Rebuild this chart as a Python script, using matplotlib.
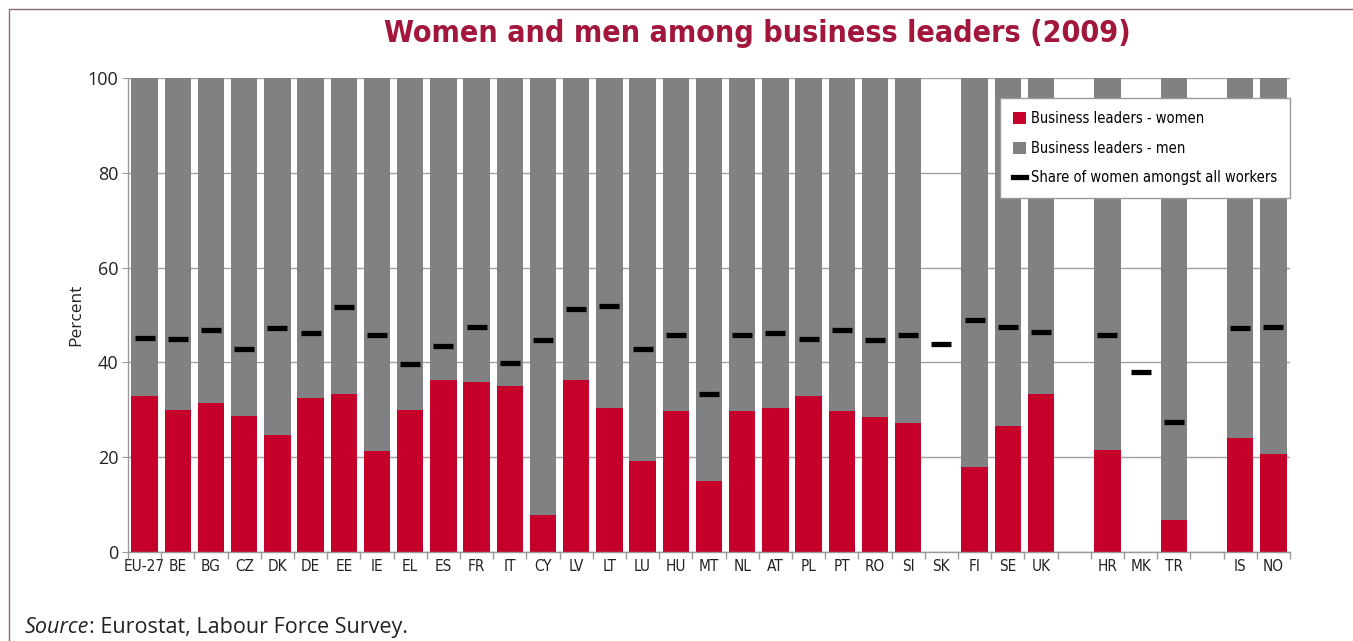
import numpy as np
import matplotlib
matplotlib.use("Agg")
import matplotlib.pyplot as plt
from matplotlib.patches import Rectangle, Patch
from matplotlib.lines import Line2D
from matplotlib import font_manager

categories = ["EU-27", "BE", "BG", "CZ", "DK", "DE", "EE", "IE", "EL", "ES", "FR", "IT",
              "CY", "LV", "LT", "LU", "HU", "MT", "NL", "AT", "PL", "PT", "RO", "SI",
              "SK", "FI", "SE", "UK", "", "HR", "MK", "TR", "", "IS", "NO"]
nan = np.nan
women = [32.9, 30.0, 31.4, 28.6, 24.6, 32.4, 33.4, 21.3, 30.0, 36.2, 35.8, 35.0,
         7.9, 36.2, 30.4, 19.2, 29.8, 15.0, 29.8, 30.4, 33.0, 29.8, 28.4, 27.3,
         nan, 18.0, 26.5, 33.4, nan, 21.6, nan, 6.7, nan, 24.0, 20.6]
men = [67.1, 70.0, 68.6, 71.4, 75.4, 67.6, 66.6, 78.7, 70.0, 63.8, 64.2, 65.0,
       92.1, 63.8, 69.6, 80.8, 70.2, 85.0, 70.2, 69.6, 67.0, 70.2, 71.6, 72.7,
       nan, 82.0, 73.5, 66.6, nan, 78.4, nan, 93.3, nan, 76.0, 79.4]
share_all = [45.2, 45.0, 46.8, 42.8, 47.3, 46.1, 51.6, 45.7, 39.6, 43.5, 47.5, 39.9,
             44.8, 51.2, 51.9, 42.8, 45.8, 33.4, 45.8, 46.3, 45.0, 46.8, 44.8, 45.8,
             43.8, 48.9, 47.5, 46.5, nan, 45.8, 38.0, 27.4, nan, 47.2, 47.5]

RED = "#c4002b"
GREY = "#808183"
TITLE_RED = "#a3163c"
TXT = "#222222"

cond = [f for f in font_manager.fontManager.ttflist
        if f.name == "DejaVu Sans" and "ondensed" in str(f.stretch)]
COND_KW = dict(family="DejaVu Sans", stretch="condensed") if cond else dict(family="DejaVu Sans")

fig = plt.figure(figsize=(13.53, 6.41), dpi=100)
ax = fig.add_axes([128/1353, 1 - 552/641, (1290-128)/1353, (552-78)/641])

x = np.arange(len(categories))
w = np.array(women, dtype=float)
m = np.array(men, dtype=float)
s = np.array(share_all, dtype=float)

ax.bar(x, w, width=0.8, color=RED, zorder=2)
ax.bar(x, m, width=0.8, bottom=w, color=GREY, zorder=2)
ax.hlines(s, x - 0.3, x + 0.3, colors="black", linewidth=3.8, zorder=3, capstyle="butt")

ax.set_xlim(-0.5, len(categories) - 0.5)
ax.set_ylim(0, 100)
ax.set_yticks([0, 20, 40, 60, 80, 100])
ax.grid(axis="y", color="#a0a0a0", linewidth=1.0, zorder=0)
ax.set_axisbelow(True)

ax.set_xticks(x)
ax.set_xticklabels(categories, fontsize=11, color=TXT, **COND_KW)
ax.tick_params(axis="x", which="major", length=0, pad=5)
ax.set_xticks(np.arange(-0.5, len(categories)), minor=True)
ax.tick_params(axis="x", which="minor", length=5, color="#999999", width=1)
ax.tick_params(axis="y", length=4, color="#999999", labelsize=13, labelcolor=TXT, pad=3)
for lab in ax.get_yticklabels():
    lab.set_family(["Open Sans", "DejaVu Sans"])

for sp in ["top", "right"]:
    ax.spines[sp].set_visible(False)
for sp in ["left", "bottom"]:
    ax.spines[sp].set_color("#999999")
    ax.spines[sp].set_linewidth(1.0)

ax.set_ylabel("Percent", family=["Open Sans", "DejaVu Sans"], fontsize=12.5,
              color=TXT, labelpad=2)

handles = [Patch(facecolor=RED, edgecolor="none"),
           Patch(facecolor=GREY, edgecolor="none"),
           Line2D([0], [0], color="black", linewidth=3.8)]
labels = ["Business leaders - women", "Business leaders - men",
          "Share of women amongst all workers"]
prop = {"size": 10.5}
prop.update(COND_KW)
leg = ax.legend(handles, labels, loc="upper right", bbox_to_anchor=(1.0, 0.958),
                borderaxespad=0, prop=prop, frameon=True, fancybox=False,
                edgecolor="#999999", framealpha=1, handlelength=0.9, handleheight=0.9,
                handletextpad=0.3, borderpad=0.9, labelspacing=1.0)
leg.get_frame().set_linewidth(1.0)
leg.set_zorder(5)

fig.text(757/1353, 1 - 33/641, "Women and men among business leaders (2009)",
         ha="center", va="center", color=TITLE_RED, fontsize=21.8, fontweight="bold",
         **COND_KW)

t1 = fig.text(25/1353, 1 - 633/641, "Source", ha="left", va="baseline",
              fontsize=15.5, style="italic", family=["Open Sans", "DejaVu Sans"], color=TXT)
fig.canvas.draw()
bb = t1.get_window_extent()
fig.text(bb.x1 / fig.bbox.width, 1 - 633/641, ": Eurostat, Labour Force Survey.",
         ha="left", va="baseline", fontsize=15.5, family=["Open Sans", "DejaVu Sans"],
         color=TXT)

fig.patches.append(Rectangle((9/1353, -0.1), 1.2, 1 - 9/641 + 0.1, transform=fig.transFigure,
                             fill=False, edgecolor="#8c6a72", linewidth=1.0, figure=fig))

fig.savefig("out.png", dpi=100)
